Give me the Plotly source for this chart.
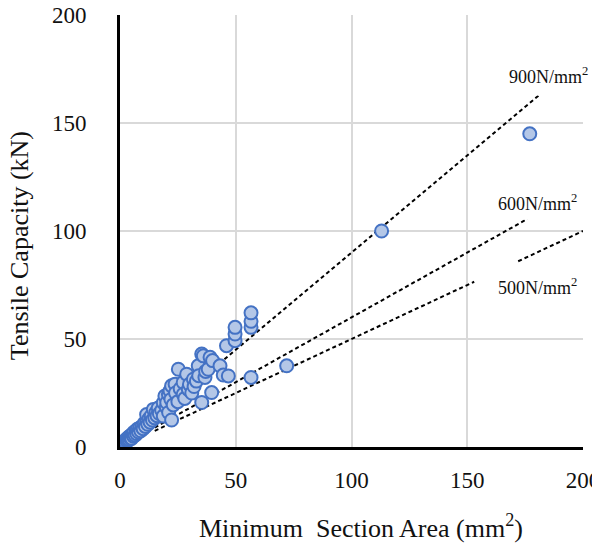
import plotly.graph_objects as go

# Measured specimens: minimum section area (mm²) and tensile capacity (kN)
area = [1.2, 1.5, 2.0, 2.2, 2.5, 2.8, 3.0, 3.2, 3.5, 3.8, 4.0, 4.2, 4.5, 5.0, 5.0, 5.5, 5.8,
        6.0, 6.5, 7.0, 7.2, 7.5, 8.0, 8.5, 9.0, 9.5, 10.0, 10.5, 11.0, 11.5, 11.5, 12.0, 12.5,
        13.0, 13.5, 14.0, 14.4, 15.0, 15.5, 16.0, 16.5, 17.0, 18.0, 18.7, 18.7, 19.4, 20.0,
        20.2, 20.9, 21.0, 21.6, 22.3, 22.3, 22.0, 23.0, 23.8, 24.0, 25.0, 25.2, 26.0, 27.3,
        27.3, 28.0, 28.8, 29.5, 30.0, 31.0, 31.7, 32.0, 33.0, 33.8, 34.0, 35.3, 35.3, 36.0,
        36.7, 37.0, 38.1, 38.9, 39.6, 40.0, 43.2, 44.6, 46.8, 46.0, 49.7, 49.7, 49.7, 56.6,
        56.6, 56.6, 56.6, 72.0, 113.0, 177.0]
capacity = [1.5, 2.2, 2.5, 3.0, 2.0, 3.5, 2.8, 4.0, 3.2, 4.5, 3.5, 5.0, 4.2, 5.5, 4.0, 6.0, 5.0,
            6.8, 5.5, 7.5, 6.2, 8.2, 7.0, 8.8, 7.5, 9.5, 8.5, 11.0, 9.5, 12.0, 15.0, 10.5, 13.0,
            11.5, 14.5, 12.5, 17.4, 13.5, 16.0, 14.5, 18.0, 15.5, 17.0, 20.5, 14.3, 23.6, 18.5,
            20.6, 24.4, 16.0, 26.0, 28.3, 12.5, 22.0, 19.5, 29.1, 25.0, 21.0, 36.0, 27.0, 29.9,
            24.4, 22.5, 33.7, 26.7, 29.0, 25.0, 31.4, 28.0, 30.5, 37.6, 33.0, 43.0, 20.6, 42.2,
            32.2, 35.0, 36.0, 41.5, 25.2, 40.0, 37.6, 33.3, 32.9, 46.9, 49.2, 52.3, 55.4, 55.4,
            58.2, 62.1, 32.2, 37.6, 100.0, 145.0]

# Reference stress lines (N/mm²) and the x-extent over which each is drawn
stress_levels = [900, 600, 500]
stress_labels = ["900N/mm<sup>2</sup>", "600N/mm<sup>2</sup>", "500N/mm<sup>2</sup>"]
line_x = {900: [15, 185], 600: [15, 176], 500: [15, 153, None, 172, 200]}
label_pos = {900: (185, 172), 600: (180.5, 113), 500: (180.5, 74.5)}
label_pad = {900: 8, 600: 5, 500: 1}

x_ticks = [0, 50, 100, 150, 200]
y_ticks = [0, 50, 100, 150, 200]

FONT = "Liberation Serif"
TXT = "#111111"

fig = go.Figure()

for s in stress_levels:
    xs = line_x[s]
    ys = [None if v is None else v * s / 1000 for v in xs]
    fig.add_trace(go.Scatter(x=xs, y=ys, mode="lines", connectgaps=False,
                             line=dict(color="black", width=2, dash="4px,3px"),
                             hoverinfo="skip", showlegend=False))

fig.add_trace(go.Scatter(x=area, y=capacity, mode="markers",
                         marker=dict(size=13, color="#B4C7E7",
                                     line=dict(color="#4472C4", width=2)),
                         showlegend=False))

for s, lab in zip(stress_levels, stress_labels):
    lx, ly = label_pos[s]
    fig.add_annotation(x=lx, y=ly, text=lab, showarrow=False, xref="x", yref="y",
                       font=dict(family=FONT, size=18, color=TXT),
                       bgcolor="white", borderpad=label_pad[s])

fig.add_annotation(x=0.52, xref="paper", y=-0.185, yref="paper", yanchor="middle",
                   text="Minimum  Section Area (mm<sup>2</sup>)", showarrow=False,
                   font=dict(family=FONT, size=26, color=TXT))
fig.add_annotation(x=-0.218, xref="paper", y=0.465, yref="paper", xanchor="center",
                   text="Tensile Capacity (kN)", showarrow=False, textangle=-90,
                   font=dict(family=FONT, size=26, color=TXT))

fig.update_xaxes(range=[0, 200], tickvals=x_ticks, showgrid=True, gridcolor="#D9D9D9",
                 gridwidth=1.5, zeroline=False, showline=True, linecolor="black",
                 linewidth=3, ticks="", ticklabelstandoff=10, automargin=False,
                 ticklabeloverflow="allow",
                 tickfont=dict(family=FONT, size=23, color=TXT))
fig.update_yaxes(range=[0, 200], tickvals=y_ticks, showgrid=True, gridcolor="#D9D9D9",
                 gridwidth=1.5, zeroline=False, showline=True, linecolor="black",
                 linewidth=3, ticks="", ticklabelstandoff=26, automargin=False,
                 ticklabeloverflow="allow",
                 tickfont=dict(family=FONT, size=23, color=TXT))

fig.update_layout(width=600, height=543, margin=dict(l=112, r=25, t=7, b=104),
                  plot_bgcolor="white", paper_bgcolor="white", showlegend=False)

fig.write_html("out.html")
